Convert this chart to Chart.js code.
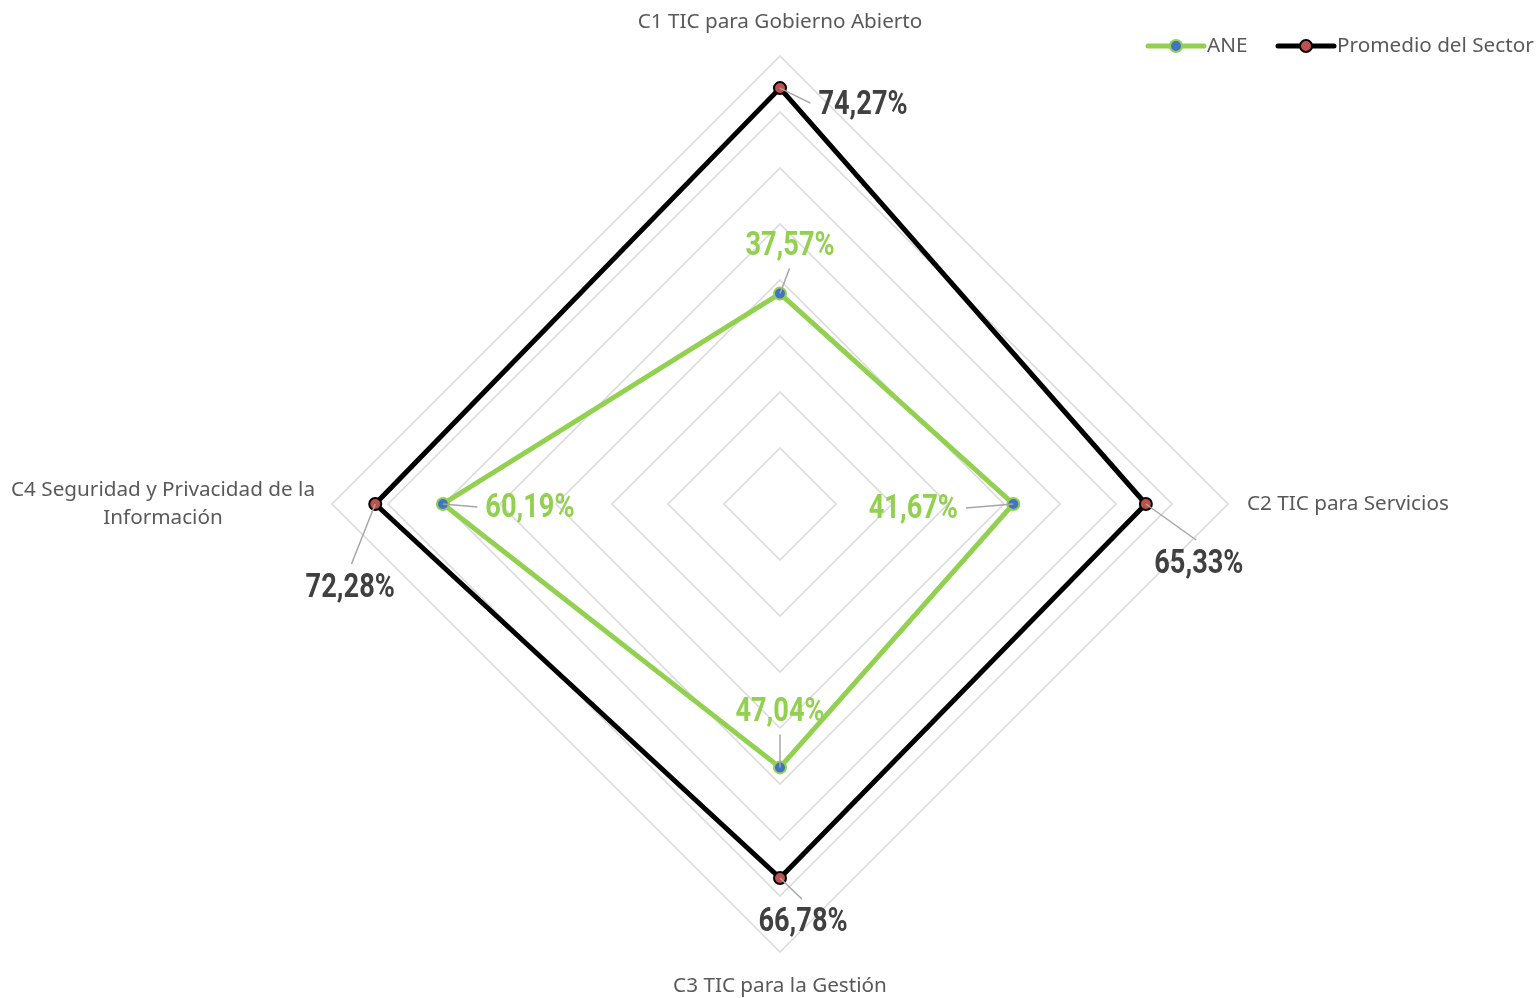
<!DOCTYPE html>
<html>
<head>
<meta charset="utf-8">
<script src="https://cdn.jsdelivr.net/npm/chart.js@4"></script>
<style>
  html, body { margin: 0; padding: 0; background: #fff; }
  #wrap { width: 1540px; height: 998px; }
</style>
</head>
<body>
<div id="wrap"><canvas id="radar" width="1540" height="998"></canvas></div>
<script>
// datos
const categorias = [
    ['C1 TIC para Gobierno Abierto'],
    ['C2 TIC para Servicios'],
    ['C3 TIC para la Gestión'],
    ['C4 Seguridad y Privacidad de la', 'Información']
];
const valoresANE = [37.57, 41.67, 47.04, 60.19];
const valoresSector = [74.27, 65.33, 66.78, 72.28];
const escalaMax = 80;
const escalaPaso = 10;

const verde = '#92d050';
const negro = '#000000';
const grisTexto = '#595959';
const fuenteEtiqueta = '"Roboto", sans-serif';
const fuenteEje = '"Noto Sans", sans-serif';

// desplazamiento de cada etiqueta de valor respecto a su punto [dx, dy]
const offsetsANE = [[10, -48], [-100, 4], [0, -56], [87, 3]];
const offsetsSector = [[83, 16], [53, 59], [23, 44], [-25, 83]];

function fmt(v) {
    return v.toFixed(2).replace('.', ',') + '%';
}

const etiquetasPlugin = {
    id: 'etiquetas',
    afterDatasetsDraw(chart) {
        const ctx = chart.ctx;
        const sets = [
            { meta: chart.getDatasetMeta(0), vals: valoresANE, offs: offsetsANE, color: verde },
            { meta: chart.getDatasetMeta(1), vals: valoresSector, offs: offsetsSector, color: '#404040' }
        ];
        const escX = 0.8; // simula una fuente condensada
        ctx.save();
        ctx.font = 'bold 34px ' + fuenteEtiqueta;
        ctx.textAlign = 'center';
        ctx.textBaseline = 'middle';
        sets.forEach(s => {
            s.meta.data.forEach((pt, i) => {
                const [dx, dy] = s.offs[i];
                const tx = pt.x + dx, ty = pt.y + dy;
                const w = ctx.measureText(fmt(s.vals[i])).width * escX;
                // línea guía hasta el borde de la etiqueta
                let ex, ey;
                if (Math.abs(dy) > Math.abs(dx) * 0.8) {
                    ex = tx - dx * 0.05;
                    ey = ty + (dy > 0 ? -23 : 23);
                } else {
                    ex = tx + (dx > 0 ? -w / 2 - 8 : w / 2 + 8);
                    ey = ty - (dy > 4 ? 1 : 0);
                }
                ctx.strokeStyle = '#a6a6a6';
                ctx.lineWidth = 1.5;
                ctx.beginPath();
                ctx.moveTo(pt.x, pt.y);
                ctx.lineTo(ex, ey);
                ctx.stroke();
                ctx.save();
                ctx.translate(tx, ty);
                ctx.scale(escX, 1);
                ctx.fillStyle = s.color;
                ctx.fillText(fmt(s.vals[i]), 0, 1);
                ctx.restore();
            });
        });
        ctx.restore();
    },
    afterDraw(chart) {
        const ctx = chart.ctx;
        const scale = chart.scales.r;
        ctx.save();
        ctx.fillStyle = grisTexto;
        ctx.font = '20.7px ' + fuenteEje;
        ctx.textBaseline = 'middle';
        // etiquetas de categoría
        const extra = [34, 19, 33, 17];
        categorias.forEach((lineas, i) => {
            const p = scale.getPointPosition(i, scale.drawingArea + extra[i]);
            const alto = 28;
            if (i === 0) {
                ctx.textAlign = 'center';
                ctx.fillText(lineas[0], p.x, p.y);
            } else if (i === 2) {
                ctx.textAlign = 'center';
                ctx.fillText(lineas[0], p.x, p.y + 1);
            } else if (i === 1) {
                ctx.textAlign = 'left';
                ctx.fillText(lineas[0], p.x, p.y);
            } else {
                ctx.textAlign = 'center';
                const anchos = lineas.map(l => ctx.measureText(l).width);
                const cx = p.x - Math.max(...anchos) / 2;
                lineas.forEach((l, k) => ctx.fillText(l, cx, p.y - 14 + k * alto));
            }
        });
        // leyenda
        const items = [
            { x: 1148, texto: 'ANE', linea: verde, relleno: '#4472c4' },
            { x: 1278, texto: 'Promedio del Sector', linea: negro, relleno: '#c0504d' }
        ];
        const ly = 46;
        ctx.textAlign = 'left';
        items.forEach(it => {
            ctx.strokeStyle = it.linea;
            ctx.lineWidth = 5;
            ctx.lineCap = 'round';
            ctx.beginPath();
            ctx.moveTo(it.x, ly);
            ctx.lineTo(it.x + 56, ly);
            ctx.stroke();
            ctx.beginPath();
            ctx.arc(it.x + 28, ly, 6, 0, Math.PI * 2);
            ctx.fillStyle = it.relleno;
            ctx.fill();
            ctx.lineWidth = 2;
            ctx.strokeStyle = it.linea;
            ctx.stroke();
            ctx.fillStyle = grisTexto;
            ctx.fillText(it.texto, it.x + 59, ly);
        });
        ctx.restore();
    }
};

const ctxRadar = document.getElementById('radar').getContext('2d');
new Chart(ctxRadar, {
    type: 'radar',
    data: {
        labels: categorias,
        datasets: [
            {
                label: 'ANE',
                data: valoresANE,
                borderColor: verde,
                borderWidth: 5,
                backgroundColor: 'rgba(0,0,0,0)',
                pointBackgroundColor: '#4472c4',
                pointBorderColor: verde,
                pointBorderWidth: 2,
                pointRadius: 6,
                fill: false
            },
            {
                label: 'Promedio del Sector',
                data: valoresSector,
                borderColor: negro,
                borderWidth: 5,
                backgroundColor: 'rgba(0,0,0,0)',
                pointBackgroundColor: '#c0504d',
                pointBorderColor: negro,
                pointBorderWidth: 2,
                pointRadius: 6,
                fill: false
            }
        ]
    },
    options: {
        responsive: false,
        animation: false,
        layout: {
            padding: { left: 332, right: 312, top: 56, bottom: 46 }
        },
        scales: {
            r: {
                min: 0,
                max: escalaMax,
                ticks: { display: false, stepSize: escalaPaso },
                grid: { color: '#d9d9d9', lineWidth: 1.5 },
                angleLines: { display: false },
                pointLabels: { display: false }
            }
        },
        plugins: {
            legend: { display: false },
            tooltip: { enabled: false }
        }
    },
    plugins: [etiquetasPlugin]
});
</script>
</body>
</html>
